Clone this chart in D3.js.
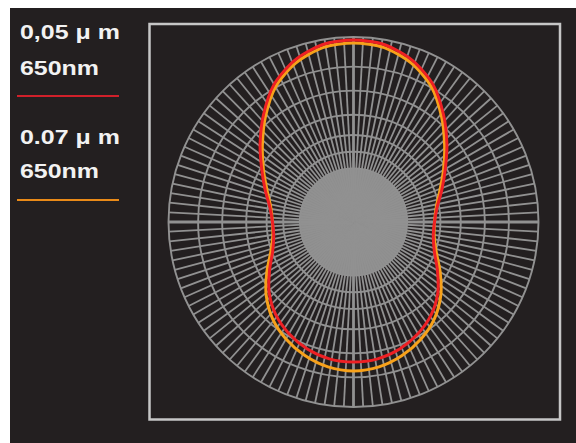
<!DOCTYPE html>
<html>
<head>
<meta charset="utf-8">
<script src="https://cdn.jsdelivr.net/npm/d3@7"></script>
<style>
  html, body { margin: 0; padding: 0; background: #ffffff; }
  svg { display: block; }
</style>
</head>
<body>
<svg id="chart" width="576" height="443"></svg>
<script>
// Scattering angle (degrees from the top axis, clockwise) for half the pattern;
// the other half is the mirror image.
const angles = [0, 10, 20, 30, 40, 50, 60, 70, 80, 90, 100, 110, 120, 130, 140, 150, 160, 170, 180];

// Relative scattered intensity, 0.05 µm particle at 650 nm
const red005 = [98.4, 97.3, 93.0, 85.9, 75.7, 65.9, 57.3, 50.8, 45.9, 43.8, 43.8, 46.5, 52.4, 59.5, 65.4, 69.7, 73.0, 75.1, 75.7];
// Relative scattered intensity, 0.07 µm particle at 650 nm
const orange007 = [96.8, 95.7, 91.4, 84.3, 74.1, 64.3, 56.2, 49.7, 45.4, 43.8, 44.3, 47.6, 54.1, 61.6, 68.1, 73.0, 76.8, 79.5, 80.5];

// Polar grid
const ringValues = [100, 84, 71, 58, 47, 38, 29];
const spokeStep = 3;             // degrees between radial grid lines
const innerDiscValue = 29;

// Legend entries
const legendLabels = [["0,05 \u03bc m", "650nm"], ["0.07 \u03bc m", "650nm"]];
const seriesColors = ["#ee2024", "#f7a11a"];
const legendLineColors = ["#d0202a", "#e98a18"];

const svg = d3.select("#chart");
const W = 576, H = 443;

// page background with the light margin at top/left
svg.append("rect").attr("x", 10).attr("y", 8).attr("width", W - 10).attr("height", H - 8).attr("fill", "#231f20");

const cx = 353.5, cy = 222;
const r = d3.scaleLinear().domain([0, 100]).range([0, 185]);
const toRad = d3.scaleLinear().domain([0, 360]).range([0, 2 * Math.PI]);

const g = svg.append("g").attr("transform", `translate(${cx},${cy})`);
const gridColor = "#919191";

// inner solid disc where the spokes converge
g.append("circle").attr("r", r(innerDiscValue)).attr("fill", "#8d8d8d");

// radial spokes
const spokes = d3.range(0, 360, spokeStep);
g.append("g").selectAll("line").data(spokes).join("line")
  .attr("x1", 0).attr("y1", 0)
  .attr("x2", d => r(100) * Math.sin(toRad(d)))
  .attr("y2", d => -r(100) * Math.cos(toRad(d)))
  .attr("stroke", gridColor)
  .attr("stroke-width", d => (d % 90 === 0 ? 2.8 : 1.8));

// rings
g.append("g").selectAll("circle").data(ringValues).join("circle")
  .attr("r", d => r(d))
  .attr("fill", "none")
  .attr("stroke", gridColor)
  .attr("stroke-width", 1.9);

// scattering patterns
function closedPoints(vals) {
  const right = angles.map((a, i) => [toRad(a), r(vals[i])]);
  const left = angles.slice(1, -1).reverse().map(a => {
    const i = angles.indexOf(a);
    return [toRad(360 - a), r(vals[i])];
  });
  return right.concat(left);
}
const radial = d3.lineRadial().angle(d => d[0]).radius(d => d[1]).curve(d3.curveCardinalClosed.tension(0.2));

g.append("path").attr("d", radial(closedPoints(orange007)))
  .attr("fill", "none").attr("stroke", seriesColors[1]).attr("stroke-width", 3);
g.append("path").attr("d", radial(closedPoints(red005)))
  .attr("fill", "none").attr("stroke", seriesColors[0]).attr("stroke-width", 3);

// frame
svg.append("rect").attr("x", 149.5).attr("y", 24).attr("width", 410.5).attr("height", 395.5)
  .attr("fill", "none").attr("stroke", "#c6c6c6").attr("stroke-width", 2.5);

// legend
const legendBase = [[39, 75], [144, 178]];
const legendLineY = [96, 200];
legendLabels.forEach((lines, k) => {
  lines.forEach((txt, j) => {
    svg.append("text")
      .attr("transform", `translate(20,${legendBase[k][j]}) scale(1.28,1)`)
      .attr("font-family", "Liberation Sans, Arial, sans-serif")
      .attr("font-weight", "bold")
      .attr("font-size", 19.5)
      .attr("fill", "#f2f2f2")
      .text(txt);
  });
  svg.append("line")
    .attr("x1", 17).attr("x2", 119)
    .attr("y1", legendLineY[k]).attr("y2", legendLineY[k])
    .attr("stroke", legendLineColors[k]).attr("stroke-width", 2);
});
</script>
</body>
</html>
